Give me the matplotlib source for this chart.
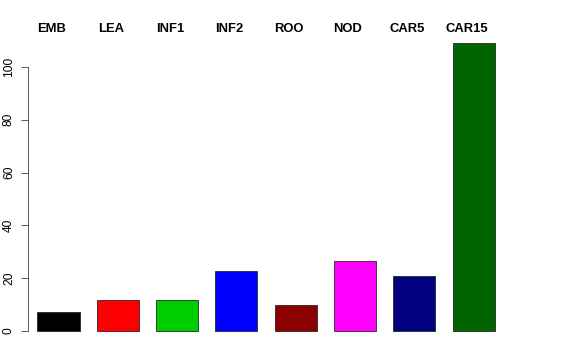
import matplotlib
matplotlib.use("Agg")
import matplotlib.pyplot as plt
import numpy as np

plt.rcParams['font.family'] = ['Liberation Sans', 'DejaVu Sans']

# data
groups = ["EMB", "LEA", "INF1", "INF2", "ROO", "NOD", "CAR5", "CAR15"]
values = [7.3, 11.6, 11.6, 22.8, 9.7, 26.4, 20.7, 109.1]
colors = ["#000000", "#FF0000", "#00CD00", "#0000FF",
          "#8B0000", "#FF00FF", "#000080", "#006400"]

W, H = 576, 360
fig = plt.figure(figsize=(W / 72, H / 72), dpi=72)

# axes placed in pixels: left 28, right 560, top 20, bottom 350
left, right, top, bottom = 28, 560, 20, 350
ax = fig.add_axes([left / W, 1 - bottom / H, (right - left) / W, (bottom - top) / H])

x = np.arange(len(groups))
ax.bar(x, values, width=0.71, color=colors, edgecolor="#222222", linewidth=0.8)

# scale: 0 -> 331 px, 100 -> 67 px; bar centres at 58.5 + 59.3*i px
ppu = 2.64
ax.set_ylim((331 - bottom) / ppu, (331 - top) / ppu)
ax.set_xlim((left - 58.5) / 59.3, (right - 58.5) / 59.3)

# group names sit a little left of the bar centres
for xi, g in zip(x, groups):
    ax.text(xi - 0.12, (331 - 29) / ppu, g, ha="center", va="center",
            fontsize=13, fontweight="bold")

for s in ["top", "right", "bottom"]:
    ax.spines[s].set_visible(False)
ax.spines["left"].set_bounds(0, 100)
ax.spines["left"].set_linewidth(0.8)
ax.spines["left"].set_color("#333333")
ax.set_xticks([])
ax.set_yticks([0, 20, 40, 60, 80, 100])
ax.tick_params(axis="y", length=7, width=0.8, color="#333333", labelsize=12, pad=6)
for lbl in ax.get_yticklabels():
    lbl.set_rotation(90)
    lbl.set_va("center")

fig.savefig("out.png", dpi=72)
